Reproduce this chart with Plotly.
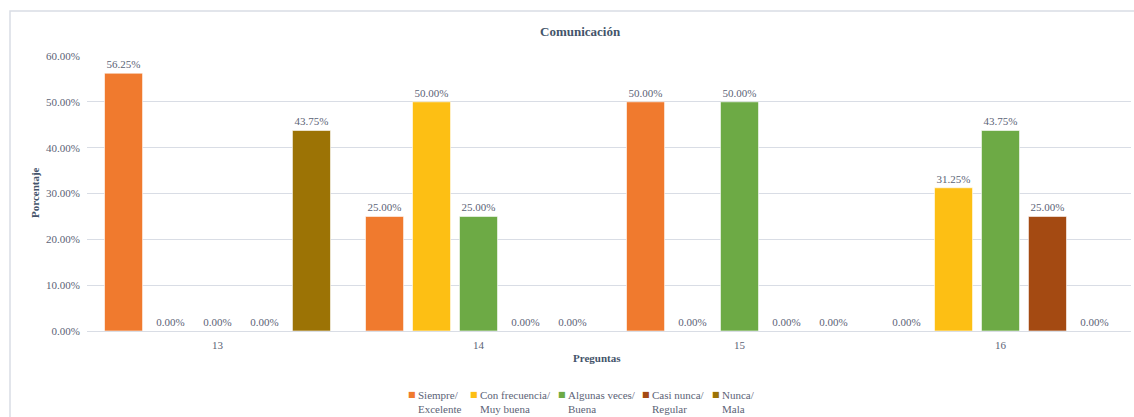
import plotly.graph_objects as go

# Data
preguntas = ["13", "14", "15", "16"]
series_names = [
    "Siempre/<br>Excelente",
    "Con frecuencia/<br>Muy buena",
    "Algunas veces/<br>Buena",
    "Casi nunca/<br>Regular",
    "Nunca/<br>Mala",
]
siempre = [56.25, 25.00, 50.00, 0.00]
con_frecuencia = [0.00, 50.00, 0.00, 31.25]
algunas_veces = [0.00, 25.00, 50.00, 43.75]
casi_nunca = [0.00, 0.00, 0.00, 25.00]
nunca = [43.75, 0.00, 0.00, 0.00]
y_ticks = [0, 10, 20, 30, 40, 50, 60]

series_values = [siempre, con_frecuencia, algunas_veces, casi_nunca, nunca]
colors = ["#F07A2E", "#FDBF14", "#6DAA45", "#A44A12", "#9C7305"]

# Layout geometry (pixels)
W, H = 1134, 417
ML, MR, MT, MB = 87, 3, 56, 86
PW, PH = W - ML - MR, H - MT - MB
BOTTOM = H - MB


def px_x(px):
    return (px - ML) / PW


def px_y(py):
    return (BOTTOM - py) / PH


SERIF = "Liberation Serif, Times New Roman, serif"
TXT = "#5b6376"
DARK = "#44546A"

fig = go.Figure()
for name, vals, col in zip(series_names, series_values, colors):
    fig.add_trace(go.Bar(
        x=preguntas,
        y=vals,
        name=name,
        marker=dict(color=col, line=dict(color="rgba(255,255,255,0.6)", width=1)),
        text=[f"{v:.2f}%" for v in vals],
        textposition="outside",
        textfont=dict(family=SERIF, size=11, color=TXT),
        cliponaxis=False,
        showlegend=False,
    ))

annotations = [
    dict(text="<b>Comunicación</b>", x=px_x(580), y=px_y(31), xref="paper", yref="paper",
         showarrow=False, font=dict(family=SERIF, size=13, color=DARK), xanchor="center", yanchor="middle"),
    dict(text="<b>Preguntas</b>", x=px_x(597), y=px_y(358), xref="paper", yref="paper",
         showarrow=False, font=dict(family=SERIF, size=11, color=DARK), xanchor="center", yanchor="middle"),
    dict(text="<b>Porcentaje</b>", x=px_x(35), y=px_y(193), xref="paper", yref="paper", textangle=-90,
         showarrow=False, font=dict(family=SERIF, size=11, color=DARK), xanchor="center", yanchor="middle"),
]

# Legend drawn as swatch + label pairs along the bottom
legend_swatch_px = [412, 474, 562, 646, 716]
for name, col, sx in zip(series_names, colors, legend_swatch_px):
    annotations.append(dict(text="■", x=px_x(sx), y=px_y(394), xref="paper", yref="paper",
                            showarrow=False, font=dict(family="DejaVu Sans", size=8, color=col),
                            xanchor="center", yanchor="middle"))
    annotations.append(dict(text=name, x=px_x(sx + 4), y=px_y(387), xref="paper", yref="paper",
                            showarrow=False, align="left", font=dict(family=SERIF, size=11, color=TXT),
                            xanchor="left", yanchor="top"))

fig.update_layout(
    width=W, height=H,
    margin=dict(l=ML, r=MR, t=MT, b=MB),
    paper_bgcolor="white", plot_bgcolor="white",
    barmode="group", bargap=0.1, bargroupgap=0.19,
    annotations=annotations,
    shapes=[dict(type="rect", xref="paper", yref="paper",
                 x0=px_x(10), x1=px_x(1170), y0=px_y(440), y1=px_y(11),
                 line=dict(color="#d9dde5", width=1.5), fillcolor="rgba(0,0,0,0)", layer="below")],
    xaxis=dict(showgrid=False, showline=True, linecolor="#d9dde5", linewidth=1,
               tickfont=dict(family=SERIF, size=11, color=TXT), ticks="", ticklabelstandoff=4),
    yaxis=dict(range=[0, 60], tickvals=y_ticks, ticktext=[f"{v:.2f}%" for v in y_ticks],
               showgrid=True, gridcolor="#d9dde5", gridwidth=1, zeroline=False, showline=False,
               tickfont=dict(family=SERIF, size=11, color=TXT), ticks="", ticklabelstandoff=6),
)

fig.write_html("out.html")
